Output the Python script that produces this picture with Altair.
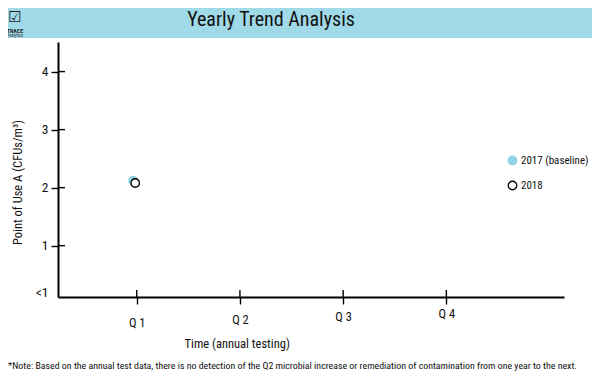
import altair as alt
import pandas as pd

# ---- data ----
quarter_pos = [1, 2, 3, 4]
quarter_labels = ["Q 1", "Q 2", "Q 3", "Q 4"]
series_names = ["2017 (baseline)", "2018"]
series_x = [0.965, 0.985]
series_y = [2.12, 2.08]
y_ticks = [0.2, 1, 2, 3, 4]
y_tick_labels = ["<1", "1", "2", "3", "4"]

title_text = "Yearly Trend Analysis"
note_text = ("*Note:  Based on the annual test data, there is no detection of the Q2 microbial "
             "increase or remediation of contamination from one year to the next.")

FONT = "Roboto Condensed"
BANNER = "#a0d9e8"
BLUE = "#8fd3e7"

W, H = 506, 255

pts = pd.DataFrame({"series": series_names, "q": series_x, "v": series_y})
qdf = pd.DataFrame({"q": quarter_pos, "label": quarter_labels})
ydf = pd.DataFrame({"v": [t for t in y_ticks if t >= 1]})

xscale = alt.Scale(domain=[0.237, 5.14], nice=False, zero=False)
yscale = alt.Scale(domain=[0.115, 4.51], nice=False, zero=False)

q_label_expr = "{" + ",".join(f"'{p}':'{l}'" for p, l in zip(quarter_pos, quarter_labels)) + "}"
y_label_expr = "{" + ",".join(f"'{p}':'{l}'" for p, l in zip(y_ticks, y_tick_labels)) + "}"

x_axis = alt.Axis(
    values=quarter_pos,
    labelExpr=f"{q_label_expr}[datum.value]",
    title="Time (annual testing)",
    titleX=178.7, titleY=46, titleAlign="center", titleBaseline="middle",
    titleFont=FONT, titleFontSize=12.5, titleFontWeight="normal", titleColor="#111",
    labelFont=FONT, labelFontSize=12.5, labelColor="#111",
    labelPadding={"expr": "datum.value == 1 ? 12.5 : datum.value == 2 ? 9 : datum.value == 3 ? 6.5 : 3"},
    tickSize=7, tickWidth=1.4, tickColor="black",
    domainWidth=2, domainColor="black", grid=False,
)
y_axis = alt.Axis(
    values=y_ticks,
    labelExpr=f"{y_label_expr}[datum.value]",
    title="Point of Use A (CFUs/m³)",
    titleX=-41, titleY=140, titleAngle=-90, titleAlign="center", titleBaseline="middle",
    titleFont=FONT, titleFontSize=12.5, titleFontWeight="normal", titleColor="#111",
    labelFont=FONT, labelFontSize=13.5, labelColor="#111", labelPadding=3,
    tickSize=7, tickWidth=1.4, tickColor="black",
    tickOpacity={"expr": "datum.value < 0.5 ? 0 : 1"},
    domainWidth=2, domainColor="black", grid=False,
)

leg = alt.Legend(title=None, orient="none", legendX=449, legendY=113,
                 labelFont=FONT, labelFontSize=11, labelColor="#111",
                 symbolSize=72, symbolStrokeWidth=1.3, rowPadding=10,
                 labelOffset=3, labelLimit=200)

points = alt.Chart(pts).mark_point(shape="circle", size=72, strokeWidth=1.3, opacity=1, fillOpacity=1).encode(
    x=alt.X("q:Q", scale=xscale, axis=x_axis),
    y=alt.Y("v:Q", scale=yscale, axis=y_axis),
    fill=alt.Fill("series:N", scale=alt.Scale(domain=series_names, range=[BLUE, "white"]), legend=leg),
    stroke=alt.Stroke("series:N", scale=alt.Scale(domain=series_names, range=[BLUE, "black"]), legend=leg),
    order=alt.Order("q:Q"),
)

ytick_in = alt.Chart(ydf).mark_rule(color="black", strokeWidth=1.4).encode(
    y=alt.Y("v:Q", scale=yscale), x=alt.value(0), x2=alt.value(7))
xtick_in = alt.Chart(qdf).mark_rule(color="black", strokeWidth=1.4).encode(
    x=alt.X("q:Q", scale=xscale), y=alt.value(H), y2=alt.value(H - 7))

one = pd.DataFrame({"a": [0]})
banner = alt.Chart(one).mark_rect(color=BANNER).encode(
    x=alt.value(-50), x2=alt.value(534), y=alt.value(-34), y2=alt.value(-4))
title = alt.Chart(pd.DataFrame({"t": [title_text]})).mark_text(
    font=FONT, fontSize=20, color="#111", align="center", baseline="middle").encode(
    text="t:N", x=alt.value(213), y=alt.value(-22))
note = alt.Chart(pd.DataFrame({"t": [note_text]})).mark_text(
    font=FONT, fontSize=9.9, color="#111", align="left", baseline="middle").encode(
    text="t:N", x=alt.value(-50), y=alt.value(324))
logo = alt.Chart(pd.DataFrame({"t": ["☑"]})).mark_text(
    font="DejaVu Sans", fontSize=15, color="#222", align="center", baseline="middle").encode(
    text="t:N", x=alt.value(-43), y=alt.value(-25))
logo2 = alt.Chart(pd.DataFrame({"t": ["TRACE"]})).mark_text(
    font=FONT, fontSize=6, fontWeight="bold", color="#222", align="center", baseline="middle").encode(
    text="t:N", x=alt.value(-43), y=alt.value(-11))
logo3 = alt.Chart(pd.DataFrame({"t": ["Analytics"]})).mark_text(
    font=FONT, fontSize=4.5, color="#333", align="center", baseline="middle").encode(
    text="t:N", x=alt.value(-43), y=alt.value(-6.5))

chart = alt.layer(banner, title, logo, logo2, logo3, ytick_in, xtick_in, points, note).properties(
    width=W, height=H,
    autosize=alt.AutoSizeParams(type="none"),
    padding={"left": 50, "top": 34, "right": 28, "bottom": 87},
    background="white",
).configure_view(stroke=None)

chart.save("out.html", embed_options={"renderer": "svg", "actions": False})
